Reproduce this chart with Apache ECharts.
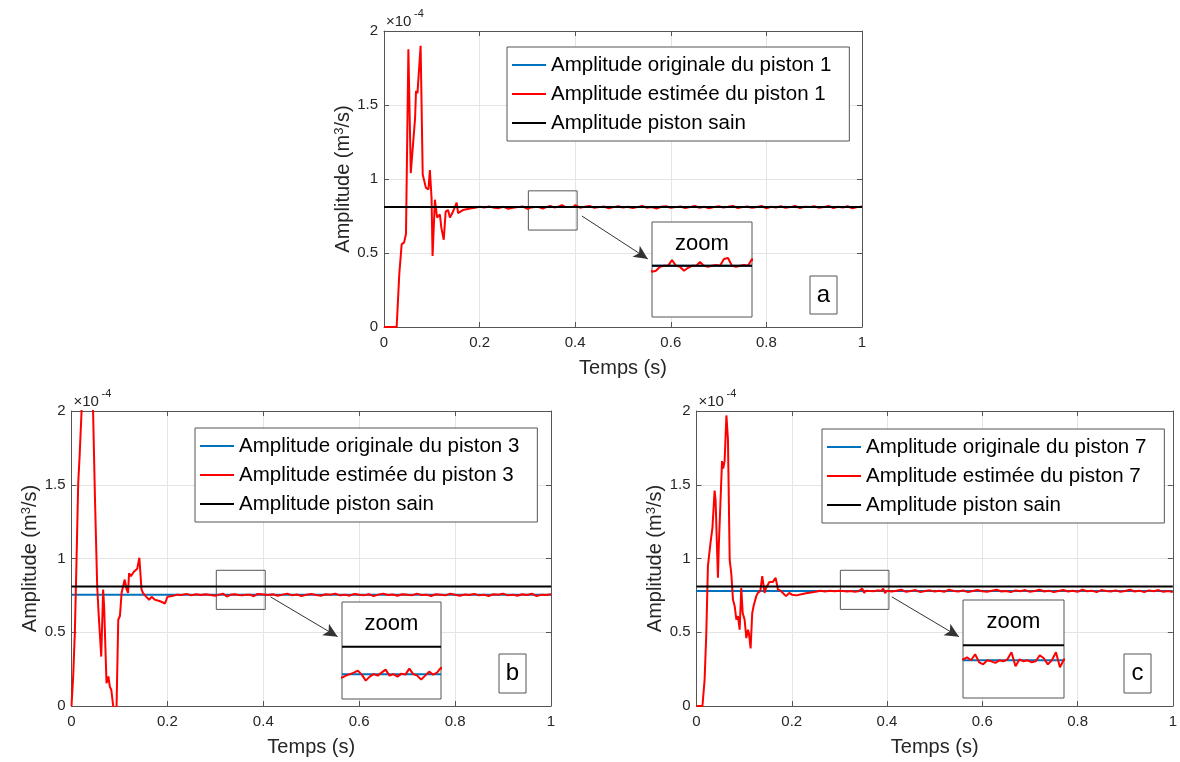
<!DOCTYPE html>
<html><head><meta charset="utf-8">
<script src="https://cdn.jsdelivr.net/npm/echarts@6/dist/echarts.min.js"></script>
<style>html,body{margin:0;padding:0;background:#fff}#c{width:1180px;height:762px}</style>
</head><body><div id="c"></div>
<script>
// ---------------- DATA (amplitudes in units of 1e-4 m^3/s) ----------------
const xTickLabels = ['0', '0.2', '0.4', '0.6', '0.8', '1'];
const yTickLabels = ['0', '0.5', '1', '1.5', '2'];

const healthy = 0.81;   // Amplitude piston sain
const origA = 0.81;     // Amplitude originale du piston 1
const origB = 0.755;    // Amplitude originale du piston 3
const origC = 0.78;     // Amplitude originale du piston 7

// transient part of the estimated amplitude (time, value)
const tEarlyA = [0, 0.0265, 0.032, 0.037, 0.042, 0.046, 0.051, 0.056, 0.065, 0.067, 0.070, 0.0766, 0.081, 0.0877, 0.093, 0.096, 0.0995, 0.1016, 0.1065, 0.111, 0.117, 0.120, 0.125, 0.129, 0.134, 0.138, 0.143, 0.152, 0.155, 0.165, 0.18, 0.19];
const vEarlyA = [0, 0, 0.36, 0.56, 0.57, 0.63, 1.876, 1.04, 1.41, 1.595, 1.58, 1.90, 1.03, 0.94, 0.93, 1.06, 0.87, 0.48, 0.86, 0.74, 0.76, 0.67, 0.59, 0.78, 0.79, 0.74, 0.77, 0.84, 0.77, 0.79, 0.80, 0.805];

const tEarlyB = [0, 0.0035, 0.007, 0.0105, 0.014, 0.017, 0.021, 0.032, 0.045, 0.049, 0.0536, 0.0565, 0.062, 0.066, 0.068, 0.073, 0.077, 0.080, 0.083, 0.087, 0.0905, 0.094, 0.0975, 0.101, 0.1046, 0.108, 0.111, 0.115, 0.118, 0.12, 0.124, 0.130, 0.137, 0.1415, 0.146, 0.149, 0.156, 0.162, 0.167, 0.174, 0.185, 0.195];
const vEarlyB = [0, 0.2, 0.5, 0.99, 1.51, 1.70, 2.0, 2.7, 2.0, 1.40, 0.81, 0.63, 0.335, 0.79, 0.68, 0.154, 0.2, 0.13, 0.11, 0, -0.15, 0, 0.585, 0.61, 0.77, 0.77, 0.857, 0.79, 0.767, 0.90, 0.88, 0.91, 0.93, 1.005, 0.79, 0.767, 0.74, 0.72, 0.74, 0.72, 0.71, 0.695];

const tEarlyC = [0, 0.0125, 0.017, 0.0206, 0.024, 0.029, 0.0335, 0.038, 0.040, 0.045, 0.047, 0.050, 0.0536, 0.056, 0.059, 0.0628, 0.066, 0.0697, 0.073, 0.0766, 0.080, 0.0837, 0.087, 0.0906, 0.094, 0.097, 0.101, 0.1046, 0.108, 0.110, 0.1136, 0.117, 0.120, 0.1255, 0.129, 0.134, 0.138, 0.143, 0.146, 0.153, 0.16, 0.166, 0.171, 0.177, 0.188, 0.195];
const vEarlyC = [0, 0, 0.177, 0.495, 0.95, 1.095, 1.21, 1.46, 1.40, 0.87, 1.10, 1.356, 1.66, 1.61, 1.66, 1.97, 1.81, 0.99, 0.90, 0.72, 0.68, 0.585, 0.61, 0.517, 0.80, 0.63, 0.585, 0.46, 0.517, 0.495, 0.39, 0.63, 0.68, 0.745, 0.767, 0.78, 0.88, 0.767, 0.80, 0.84, 0.84, 0.87, 0.79, 0.78, 0.745, 0.767];

// steady-state part (shared time samples; finer inside the zoom window 0.3-0.4)
const tSteady = [0.20, 0.21, 0.22, 0.23, 0.24, 0.25, 0.26, 0.27, 0.28, 0.29,
  0.300, 0.304, 0.308, 0.312, 0.316, 0.320, 0.324, 0.328, 0.332, 0.336, 0.340, 0.344, 0.348,
  0.352, 0.356, 0.360, 0.364, 0.368, 0.372, 0.376, 0.380, 0.384, 0.388, 0.392, 0.396, 0.400,
  0.41, 0.42, 0.43, 0.44, 0.45, 0.46, 0.47, 0.48, 0.49, 0.50,
  0.51, 0.52, 0.53, 0.54, 0.55, 0.56, 0.57, 0.58, 0.59, 0.60,
  0.61, 0.62, 0.63, 0.64, 0.65, 0.66, 0.67, 0.68, 0.69, 0.70,
  0.71, 0.72, 0.73, 0.74, 0.75, 0.76, 0.77, 0.78, 0.79, 0.80,
  0.81, 0.82, 0.83, 0.84, 0.85, 0.86, 0.87, 0.88, 0.89, 0.90,
  0.91, 0.92, 0.93, 0.94, 0.95, 0.96, 0.97, 0.98, 0.99, 1.00];

const vSteadyA = [0.812, 0.808, 0.815, 0.806, 0.803, 0.812, 0.798, 0.806, 0.81, 0.815,
  0.798, 0.80, 0.808, 0.81, 0.81, 0.822, 0.81, 0.808, 0.80, 0.806, 0.81, 0.81, 0.818,
  0.81, 0.808, 0.81, 0.812, 0.81, 0.824, 0.826, 0.81, 0.808, 0.81, 0.812, 0.81, 0.824,
  0.806, 0.812, 0.818, 0.806, 0.81, 0.814, 0.802, 0.81, 0.816, 0.808,
  0.812, 0.804, 0.81, 0.818, 0.806, 0.81, 0.8, 0.812, 0.816, 0.806,
  0.81, 0.814, 0.804, 0.81, 0.818, 0.806, 0.812, 0.802, 0.81, 0.816,
  0.808, 0.812, 0.818, 0.804, 0.81, 0.814, 0.806, 0.81, 0.818, 0.802,
  0.812, 0.808, 0.816, 0.806, 0.81, 0.818, 0.804, 0.812, 0.81, 0.816,
  0.806, 0.81, 0.818, 0.804, 0.812, 0.808, 0.816, 0.802, 0.81, 0.814];

const vSteadyB = [0.74, 0.745, 0.755, 0.752, 0.76, 0.75, 0.757, 0.752, 0.758, 0.752,
  0.748, 0.752, 0.755, 0.758, 0.762, 0.754, 0.742, 0.75, 0.755, 0.752, 0.758, 0.764, 0.752,
  0.755, 0.75, 0.756, 0.754, 0.766, 0.755, 0.752, 0.744, 0.752, 0.76, 0.754, 0.758, 0.768,
  0.752, 0.758, 0.748, 0.755, 0.762, 0.75, 0.756, 0.745, 0.755, 0.76,
  0.752, 0.748, 0.758, 0.755, 0.762, 0.75, 0.755, 0.748, 0.76, 0.754,
  0.75, 0.758, 0.745, 0.755, 0.762, 0.752, 0.756, 0.748, 0.758, 0.754,
  0.75, 0.762, 0.752, 0.755, 0.746, 0.758, 0.755, 0.75, 0.762, 0.754,
  0.748, 0.756, 0.752, 0.76, 0.75, 0.755, 0.746, 0.758, 0.754, 0.762,
  0.75, 0.755, 0.748, 0.758, 0.752, 0.762, 0.745, 0.755, 0.752, 0.758];

const vSteadyC = [0.755, 0.75, 0.758, 0.765, 0.77, 0.775, 0.782, 0.776, 0.782, 0.778,
  0.782, 0.786, 0.78, 0.792, 0.776, 0.772, 0.78, 0.778, 0.775, 0.78, 0.778, 0.782, 0.796,
  0.768, 0.782, 0.778, 0.78, 0.776, 0.778, 0.79, 0.784, 0.772, 0.78, 0.796, 0.766, 0.782,
  0.776, 0.782, 0.788, 0.774, 0.78, 0.786, 0.772, 0.78, 0.784, 0.776,
  0.782, 0.774, 0.788, 0.78, 0.776, 0.784, 0.772, 0.78, 0.786, 0.778,
  0.774, 0.782, 0.788, 0.776, 0.78, 0.772, 0.784, 0.778, 0.786, 0.774,
  0.78, 0.788, 0.776, 0.782, 0.772, 0.78, 0.786, 0.776, 0.782, 0.774,
  0.788, 0.778, 0.782, 0.772, 0.786, 0.78, 0.776, 0.784, 0.774, 0.78,
  0.788, 0.776, 0.782, 0.772, 0.784, 0.778, 0.786, 0.774, 0.78, 0.772];

// zoom window (data coordinates) and zoomed view range
const zoomWin = { t0: 0.302, t1: 0.404, v0: 0.655, v1: 0.92 };
const zoomView = { t0: 0.3, t1: 0.4, v0: 0.705, v1: 0.90 };

// ---------------- LAYOUT ----------------
const FONT = '"Liberation Sans", Arial, Helvetica, sans-serif';
const AXC = '#555555';
const TXT = '#262626';
const GRIDC = '#e4e4e4';
const BOXC = '#555555';
const BLUE = '#0072BD', RED = '#FF0000', BLACK = '#000000';

const panels = [
  { id: 'a', piston: '1', orig: origA, tE: tEarlyA, vE: vEarlyA, vS: vSteadyA,
    grid: { left: 384, top: 31, width: 478, height: 296 },
    legend: { left: 507, top: 47 },
    inset: { left: 652, top: 222, width: 100, height: 95 },
    box: { x: 810, y: 276, w: 27, h: 38 },
    arrow: [[0.414, 0.75], [0.552, 0.46]] },
  { id: 'b', piston: '3', orig: origB, tE: tEarlyB, vE: vEarlyB, vS: vSteadyB,
    grid: { left: 71.5, top: 411, width: 479.5, height: 295 },
    legend: { left: 195, top: 428 },
    inset: { left: 342, top: 602, width: 99, height: 97 },
    box: { x: 499, y: 654, w: 27, h: 39 },
    arrow: [[0.415, 0.74], [0.555, 0.47]] },
  { id: 'c', piston: '7', orig: origC, tE: tEarlyC, vE: vEarlyC, vS: vSteadyC,
    grid: { left: 696.5, top: 411, width: 479, height: 295 },
    legend: { left: 822, top: 429 },
    inset: { left: 963, top: 600, width: 101, height: 98 },
    box: { x: 1124, y: 654, w: 27, h: 39 },
    arrow: [[0.41, 0.74], [0.551, 0.47]] }
];

const grids = [], xAxes = [], yAxes = [], series = [], legends = [], graphics = [];
const N = panels.length;

panels.forEach((p, i) => {
  grids[i] = Object.assign({ containLabel: false }, p.grid);
  grids[N + i] = Object.assign({ show: true, backgroundColor: '#fff', borderColor: BOXC, borderWidth: 1, z: 5 }, p.inset);

  const axLine = { show: true, onZero: false, lineStyle: { color: AXC, width: 1 } };
  const axTick = { show: true, inside: true, length: 5, lineStyle: { color: AXC, width: 1 } };
  xAxes[i] = {
    type: 'value', gridIndex: i, min: 0, max: 1, interval: 0.2, position: 'bottom',
    name: 'Temps (s)', nameLocation: 'middle', nameGap: 31,
    nameTextStyle: { fontSize: 20, color: TXT, fontFamily: FONT },
    axisLine: axLine, axisTick: axTick,
    axisLabel: { fontSize: 15, color: TXT, fontFamily: FONT, margin: 8,
      formatter: v => xTickLabels[Math.round(v / 0.2)] },
    splitLine: { show: true, lineStyle: { color: GRIDC, width: 1 } }
  };
  yAxes[i] = {
    type: 'value', gridIndex: i, min: 0, max: 2, interval: 0.5, position: 'left',
    name: 'Amplitude (m{sup|3}/s)', nameLocation: 'middle', nameRotate: 90, nameGap: 23,
    nameTextStyle: { fontSize: 20, color: TXT, fontFamily: FONT,
      rich: { sup: { fontSize: 13, color: TXT, fontFamily: FONT, verticalAlign: 'top', padding: [0, 0, 8, 0] } } },
    axisLine: axLine, axisTick: axTick,
    axisLabel: { fontSize: 15, color: TXT, fontFamily: FONT, margin: 6,
      formatter: v => yTickLabels[Math.round(v / 0.5)] },
    splitLine: { show: true, lineStyle: { color: GRIDC, width: 1 } }
  };
  // mirrored box axes (top / right) with inward ticks
  xAxes[N + i] = { type: 'value', gridIndex: i, min: 0, max: 1, interval: 0.2, position: 'top',
    axisLine: axLine, axisTick: axTick, axisLabel: { show: false }, splitLine: { show: false } };
  yAxes[N + i] = { type: 'value', gridIndex: i, min: 0, max: 2, interval: 0.5, position: 'right',
    axisLine: axLine, axisTick: axTick, axisLabel: { show: false }, splitLine: { show: false } };
  // inset axes
  xAxes[2 * N + i] = { type: 'value', gridIndex: N + i, min: zoomView.t0, max: zoomView.t1, show: false };
  yAxes[2 * N + i] = { type: 'value', gridIndex: N + i, min: zoomView.v0, max: zoomView.v1, show: false };

  const nameOrig = 'Amplitude originale du piston ' + p.piston;
  const nameEst = 'Amplitude estimée du piston ' + p.piston;
  const nameSain = 'Amplitude piston sain';

  const redEarly = p.tE.map((t, k) => [t, p.vE[k]]);
  const redSteady = tSteady.map((t, k) => [t, p.vS[k]]);
  const red = redEarly.concat(redSteady);
  const blue = [[0, p.orig], [1, p.orig]];
  const black = [[0, healthy], [1, healthy]];

  const base = { type: 'line', symbol: 'none', showSymbol: false, animation: false, silent: true, clip: true };
  series.push(Object.assign({}, base, { name: nameOrig, xAxisIndex: i, yAxisIndex: i, color: BLUE,
    lineStyle: { color: BLUE, width: 2 }, data: blue, z: 2 }));
  series.push(Object.assign({}, base, { name: nameEst, xAxisIndex: i, yAxisIndex: i, color: RED,
    lineStyle: { color: RED, width: 2 }, data: red, z: 2 }));
  series.push(Object.assign({}, base, { name: nameSain, xAxisIndex: i, yAxisIndex: i, color: BLACK,
    lineStyle: { color: BLACK, width: 2 }, data: black, z: 2,
    markArea: { silent: true, itemStyle: { color: 'rgba(0,0,0,0)', borderColor: BOXC, borderWidth: 1 },
      label: { show: false },
      data: [[{ coord: [zoomWin.t0, zoomWin.v1] }, { coord: [zoomWin.t1, zoomWin.v0] }]] },
    markLine: { silent: true, symbol: ['none', 'arrow'], symbolSize: [10, 14], animation: false,
      lineStyle: { color: '#333', width: 1, type: 'solid' }, label: { show: false },
      data: [[{ coord: p.arrow[0] }, { coord: p.arrow[1] }]] } }));

  // zoomed view
  const inZoom = redSteady.filter(d => d[0] >= 0.29 && d[0] <= 0.41);
  series.push(Object.assign({}, base, { name: 'zoom-o-' + p.id, xAxisIndex: 2 * N + i, yAxisIndex: 2 * N + i,
    color: BLUE, lineStyle: { color: BLUE, width: 2 }, data: [[zoomView.t0, p.orig], [zoomView.t1, p.orig]], z: 6 }));
  series.push(Object.assign({}, base, { name: 'zoom-e-' + p.id, xAxisIndex: 2 * N + i, yAxisIndex: 2 * N + i,
    color: RED, lineStyle: { color: RED, width: 2 }, data: inZoom, z: 6 }));
  series.push(Object.assign({}, base, { name: 'zoom-s-' + p.id, xAxisIndex: 2 * N + i, yAxisIndex: 2 * N + i,
    color: BLACK, lineStyle: { color: BLACK, width: 2 }, data: [[zoomView.t0, healthy], [zoomView.t1, healthy]], z: 6 }));

  legends.push({
    left: p.legend.left, top: p.legend.top, orient: 'vertical', selectedMode: false,
    icon: 'rect', itemWidth: 34, itemHeight: 2, itemGap: 5, padding: [6, 18, 6, 5],
    itemStyle: { borderWidth: 0 },
    backgroundColor: '#fff', borderColor: BOXC, borderWidth: 1, z: 4,
    textStyle: { fontSize: 20.5, color: '#000', fontFamily: FONT, lineHeight: 24 },
    data: [nameOrig, nameEst, nameSain]
  });

  // x10^-4 exponent
  graphics.push({ type: 'text', x: p.grid.left + 2, y: p.grid.top - 9, z: 10, silent: true,
    style: { text: '×10', fontSize: 15, fontFamily: FONT, fill: TXT, align: 'left', verticalAlign: 'middle' } });
  graphics.push({ type: 'text', x: p.grid.left + 30, y: p.grid.top - 17, z: 10, silent: true,
    style: { text: '-4', fontSize: 11, fontFamily: FONT, fill: TXT, align: 'left', verticalAlign: 'middle' } });
  // "zoom" caption
  graphics.push({ type: 'text', x: p.inset.left + p.inset.width / 2, y: p.inset.top + 22, z: 20, silent: true,
    style: { text: 'zoom', fontSize: 22, fontFamily: FONT, fill: '#000', align: 'center', verticalAlign: 'middle' } });
  // panel letter box
  graphics.push({ type: 'group', x: p.box.x, y: p.box.y, z: 20, silent: true, children: [
    { type: 'rect', shape: { x: 0, y: 0, width: p.box.w, height: p.box.h },
      style: { fill: '#fff', stroke: BOXC, lineWidth: 1 } },
    { type: 'text', x: p.box.w / 2, y: p.box.h / 2, style: { text: p.id, fontSize: 24, fontFamily: FONT,
      fill: '#000', align: 'center', verticalAlign: 'middle' } }
  ] });
});

const chart = echarts.init(document.getElementById('c'), null, { renderer: 'canvas' });
chart.setOption({
  backgroundColor: '#fff',
  animation: false,
  textStyle: { fontFamily: FONT },
  grid: grids, xAxis: xAxes, yAxis: yAxes,
  legend: legends, series: series, graphic: graphics
});
</script></body></html>
